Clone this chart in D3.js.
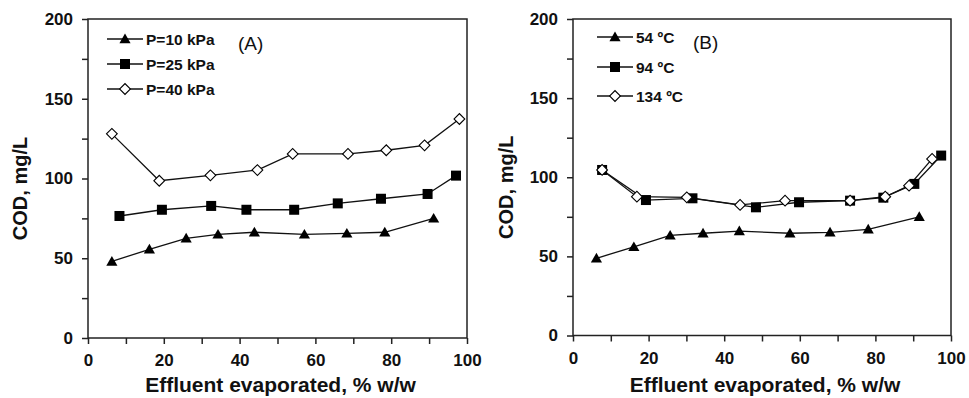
<!DOCTYPE html>
<html>
<head>
<meta charset="utf-8">
<script src="https://cdn.jsdelivr.net/npm/d3@7"></script>
<style>
  body { margin: 0; background: #fff; }
  text { font-family: "Liberation Sans", Arial, sans-serif; fill: #111; }
</style>
</head>
<body>
<script>
var svgWidth = 969;
var svgHeight = 398;

// Panel A data (pressure)
var xA10 = [6.3, 16.2, 25.9, 34.3, 43.9, 57.1, 68.3, 78.3, 91.2];
var yA10 = [48, 55.6, 62.5, 65, 66.3, 65, 65.6, 66.3, 75];
var xA25 = [8.3, 19.5, 32.5, 41.8, 54.4, 65.9, 77.3, 89.6, 97.1];
var yA25 = [76.5, 80.4, 82.8, 80.4, 80.4, 84.4, 87.3, 90.3, 101.8];
var xA40 = [6.3, 18.8, 32.3, 44.7, 54, 68.6, 78.7, 88.8, 98];
var yA40 = [128, 98.6, 102, 105.3, 115.4, 115.4, 117.7, 120.8, 137.3];

// Panel B data (temperature)
var xB54 = [6.2, 16.1, 25.7, 34.4, 44, 57.4, 68, 78.1, 91.6];
var yB54 = [48.8, 56, 63.3, 64.6, 66, 64.6, 65.2, 67.1, 75];
var xB94 = [7.7, 19.3, 31.6, 48.4, 59.8, 73.3, 82.1, 90.3, 97.4];
var yB94 = [104.6, 85.6, 86.7, 81, 84.2, 85.2, 87.1, 95.8, 113.7];
var xB134 = [7.7, 16.9, 30.1, 44.2, 56.1, 73.3, 82.6, 88.9, 95];
var yB134 = [104.6, 87.7, 87.3, 82.5, 85.2, 85.2, 87.7, 94.7, 111.6];

var labelsA = ["P=10 kPa", "P=25 kPa", "P=40 kPa"];
var labelsB = ["54 ºC", "94 ºC", "134 ºC"];

var xTicks = [0, 10, 20, 30, 40, 50, 60, 70, 80, 90, 100];
var yTicks = [0, 25, 50, 75, 100, 125, 150, 175, 200];

var svg = d3.select("body")
  .append("svg")
  .attr("width", svgWidth)
  .attr("height", svgHeight);

function zip(xs, ys) {
  return xs.map(function(x, i) { return {x: x, y: ys[i]}; });
}

var panels = [
  {
    x0: 88, x1: 467, y0: 338, y1: 19, tag: "(A)", tagX: 238, tagY: 50,
    legX: 107, legY: [39, 64, 89], labels: labelsA, ylabX: 27,
    series: [zip(xA10, yA10), zip(xA25, yA25), zip(xA40, yA40)]
  },
  {
    x0: 573, x1: 951, y0: 335.5, y1: 19, tag: "(B)", tagX: 693, tagY: 49,
    legX: 597, legY: [37, 67, 96], labels: labelsB, ylabX: 513,
    series: [zip(xB54, yB54), zip(xB94, yB94), zip(xB134, yB134)]
  }
];

var markers = ["triangle", "square", "diamond"];

function drawMarker(g, type, cx, cy) {
  if (type === "triangle") {
    g.append("path")
      .attr("d", d3.symbol().type(d3.symbolTriangle).size(54)())
      .attr("transform", `translate(${cx},${cy + 1})`)
      .attr("fill", "#000");
  } else if (type === "square") {
    g.append("rect")
      .attr("x", cx - 5).attr("y", cy - 5)
      .attr("width", 10).attr("height", 10)
      .attr("fill", "#000");
  } else {
    g.append("rect")
      .attr("x", -3.8).attr("y", -3.8)
      .attr("width", 7.6).attr("height", 7.6)
      .attr("transform", `translate(${cx},${cy}) rotate(45)`)
      .attr("fill", "#fff")
      .attr("stroke", "#000")
      .attr("stroke-width", 1.1);
  }
}

panels.forEach(function(p) {
  var x = d3.scaleLinear().domain([0, 100]).range([p.x0, p.x1]);
  var y = d3.scaleLinear().domain([0, 200]).range([p.y0, p.y1]);
  var g = svg.append("g");

  // frame
  g.append("rect")
    .attr("x", p.x0).attr("y", p.y1)
    .attr("width", p.x1 - p.x0).attr("height", p.y0 - p.y1)
    .attr("fill", "none")
    .attr("stroke", "#222")
    .attr("stroke-width", 1.5);

  var bottomAxis = d3.axisBottom(x)
    .tickValues(xTicks)
    .tickSize(6)
    .tickPadding(10)
    .tickFormat(function(d) { return d % 20 === 0 ? d : ""; });
  var leftAxis = d3.axisLeft(y)
    .tickValues(yTicks)
    .tickSize(6)
    .tickPadding(9)
    .tickFormat(function(d) { return d % 50 === 0 ? d : ""; });

  var xa = g.append("g")
    .attr("transform", `translate(0, ${p.y0})`)
    .call(bottomAxis);
  var ya = g.append("g")
    .attr("transform", `translate(${p.x0}, 0)`)
    .call(leftAxis);

  [xa, ya].forEach(function(a) {
    a.select(".domain").remove();
    a.selectAll("line").attr("stroke", "#222").attr("stroke-width", 1.5);
    a.selectAll("text")
      .style("font-size", "17px")
      .style("font-weight", "bold")
      .style("font-family", "Liberation Sans, Arial, sans-serif")
      .attr("fill", "#111");
  });

  // series
  var line = d3.line().x(d => x(d.x)).y(d => y(d.y));
  p.series.forEach(function(s, i) {
    g.append("path")
      .datum(s)
      .attr("d", line)
      .attr("fill", "none")
      .attr("stroke", "#111")
      .attr("stroke-width", 1.3);
  });
  p.series.forEach(function(s, i) {
    s.forEach(function(d) {
      drawMarker(g, markers[i], x(d.x), y(d.y));
    });
  });

  // legend
  p.labels.forEach(function(lbl, i) {
    var ly = p.legY[i];
    g.append("line")
      .attr("x1", p.legX).attr("x2", p.legX + 36)
      .attr("y1", ly).attr("y2", ly)
      .attr("stroke", "#111").attr("stroke-width", 1.3);
    drawMarker(g, markers[i], p.legX + 18, ly);
    g.append("text")
      .attr("x", p.legX + 39).attr("y", ly + 5.5)
      .style("font-size", "15.5px")
      .style("font-weight", "bold")
      .text(lbl);
  });

  g.append("text")
    .attr("x", p.tagX).attr("y", p.tagY)
    .style("font-size", "19px")
    .text(p.tag);

  // axis labels
  g.append("text")
    .attr("transform", `translate(${p.ylabX}, ${(p.y0 + p.y1) / 2 + 10}) rotate(-90)`)
    .attr("text-anchor", "middle")
    .style("font-size", "20px")
    .style("font-weight", "bold")
    .text("COD, mg/L");

  g.append("text")
    .attr("x", (p.x0 + p.x1) / 2 + 3)
    .attr("y", 392)
    .attr("text-anchor", "middle")
    .style("font-size", "21px")
    .style("font-weight", "bold")
    .text("Effluent evaporated, % w/w");
});
</script>
</body>
</html>
